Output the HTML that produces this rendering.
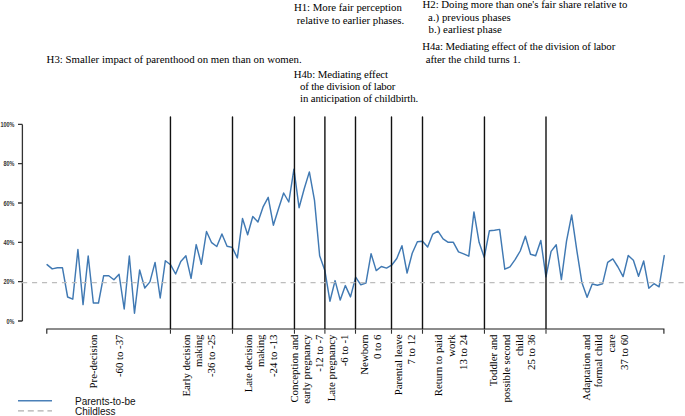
<!DOCTYPE html>
<html><head><meta charset="utf-8"><style>
html,body{margin:0;padding:0;background:#fff;}
body{width:685px;height:416px;overflow:hidden;}
svg{display:block;}
.t{font-family:"Liberation Serif",serif;font-size:10.8px;fill:#000;}
.y{font-family:"Liberation Sans",sans-serif;font-size:6.3px;font-weight:bold;fill:#333;}
.lg{font-family:"Liberation Sans",sans-serif;font-size:10px;fill:#111;}
</style></head><body>
<svg width="685" height="416" viewBox="0 0 685 416">

<text class="t" x="293.89" y="10.90" textLength="107.97" lengthAdjust="spacing">H1: More fair perception</text>
<text class="t" x="296.78" y="23.60" textLength="107.43" lengthAdjust="spacing">relative to earlier phases.</text>
<text class="t" x="422.49" y="7.90" textLength="204.82" lengthAdjust="spacing">H2: Doing more than one&#39;s fair share relative to</text>
<text class="t" x="428.12" y="20.60" textLength="82.57" lengthAdjust="spacing">a.) previous phases</text>
<text class="t" x="428.60" y="33.10" textLength="73.17" lengthAdjust="spacing">b.) earliest phase</text>
<text class="t" x="422.19" y="50.40" textLength="193.11" lengthAdjust="spacing">H4a: Mediating effect of the division of labor</text>
<text class="t" x="425.72" y="62.80" textLength="94.79" lengthAdjust="spacing">after the child turns 1.</text>
<text class="t" x="46.59" y="63.00" textLength="255.12" lengthAdjust="spacing">H3: Smaller impact of parenthood on men than on women.</text>
<text class="t" x="293.79" y="77.60" textLength="94.27" lengthAdjust="spacing">H4b: Mediating effect</text>
<text class="t" x="299.89" y="89.80" textLength="95.51" lengthAdjust="spacing">of the division of labor</text>
<text class="t" x="300.07" y="102.20" textLength="118.14" lengthAdjust="spacing">in anticipation of childbirth.</text>
<path d="M22.4 124.4V321M18 124.4H22.4M18 163.7H22.4M18 203H22.4M18 242.4H22.4M18 281.7H22.4M18 321H22.4" stroke="#333" stroke-width="1.3" fill="none"/>
<text class="y" text-anchor="end" transform="translate(14.4 127.00) scale(0.87 1)">100%</text>
<text class="y" text-anchor="end" transform="translate(14.4 166.30) scale(0.87 1)">80%</text>
<text class="y" text-anchor="end" transform="translate(14.4 205.60) scale(0.87 1)">60%</text>
<text class="y" text-anchor="end" transform="translate(14.4 245.00) scale(0.87 1)">40%</text>
<text class="y" text-anchor="end" transform="translate(14.4 284.30) scale(0.87 1)">20%</text>
<text class="y" text-anchor="end" transform="translate(14.4 323.60) scale(0.87 1)">0%</text>
<polyline points="47.05,264.60 52.19,268.90 57.34,267.80 62.48,267.80 67.62,297.00 72.77,299.20 77.91,249.50 83.05,304.60 88.20,256.00 93.34,303.00 98.48,303.00 103.63,275.80 108.77,275.80 113.91,279.80 119.06,274.30 124.20,309.00 129.34,256.00 134.49,313.20 139.63,270.00 144.77,288.00 149.92,281.90 155.06,262.40 160.20,298.00 165.35,260.70 170.49,264.70 175.63,274.00 180.78,261.50 185.92,255.80 191.06,278.30 196.21,244.60 201.35,264.20 206.49,231.50 211.64,242.70 216.78,246.50 221.92,234.00 227.07,246.20 232.21,247.40 237.35,257.90 242.50,218.50 247.64,234.80 252.78,216.50 257.93,221.90 263.07,206.90 268.21,197.30 273.36,225.20 278.50,208.80 283.64,193.00 288.79,202.00 293.93,169.20 299.07,207.70 304.22,188.80 309.36,171.90 314.50,200.40 319.64,255.70 324.79,270.20 329.93,301.20 335.07,280.60 340.22,300.10 345.36,285.60 350.50,296.90 355.65,277.20 360.79,284.80 365.93,283.10 371.08,253.70 376.22,270.60 381.36,266.50 386.51,268.10 391.65,265.20 396.79,258.50 401.94,245.70 407.08,273.00 412.22,253.30 417.37,241.70 422.51,241.20 427.65,247.10 432.80,234.10 437.94,231.20 443.08,238.90 448.23,242.30 453.37,242.30 458.51,251.90 463.66,253.90 468.80,256.20 473.94,211.90 479.09,242.30 484.23,257.30 489.37,230.80 494.52,230.20 499.66,229.40 504.80,269.20 509.95,266.90 515.09,259.60 520.23,251.00 525.38,236.20 530.52,254.20 535.66,255.80 540.81,240.40 545.95,276.80 551.09,251.40 556.24,244.80 561.38,279.60 566.52,241.20 571.67,214.90 576.81,250.40 581.95,282.80 587.10,297.20 592.24,284.00 597.38,285.20 602.53,283.80 607.67,262.40 612.81,258.90 617.96,267.00 623.10,276.60 628.24,255.50 633.39,260.30 638.53,276.30 643.67,261.00 648.82,288.20 653.96,283.70 659.10,286.80 664.25,255.60" fill="none" stroke="#4079b3" stroke-width="1.45" stroke-linejoin="round" stroke-linecap="round"/>
<path d="M46.8 333.8V329H663.9V333.8" stroke="#1a1a1a" stroke-width="1.1" fill="none"/>
<path d="M170.45 329.5V333.8M232.50 329.5V333.8M294.45 329.5V333.8M324.90 329.5V333.8M355.50 329.5V333.8M391.50 329.5V333.8M422.50 329.5V333.8M484.45 329.5V333.8M546.00 329.5V333.8" stroke="#333" stroke-width="1.1" fill="none"/>
<path d="M170.45 117.0V328.4" stroke="#111" stroke-width="1.4" stroke-linecap="round"/>
<path d="M232.50 117.0V328.4" stroke="#111" stroke-width="1.4" stroke-linecap="round"/>
<path d="M294.45 117.0V328.4" stroke="#111" stroke-width="1.4" stroke-linecap="round"/>
<path d="M324.90 117.0V328.4" stroke="#111" stroke-width="1.4" stroke-linecap="round"/>
<path d="M355.50 117.0V328.4" stroke="#111" stroke-width="1.4" stroke-linecap="round"/>
<path d="M391.50 117.0V328.4" stroke="#111" stroke-width="1.4" stroke-linecap="round"/>
<path d="M422.50 117.0V328.4" stroke="#111" stroke-width="1.4" stroke-linecap="round"/>
<path d="M484.45 117.0V328.4" stroke="#111" stroke-width="1.4" stroke-linecap="round"/>
<path d="M546.00 117.0V328.4" stroke="#111" stroke-width="1.4" stroke-linecap="round"/>
<path d="M22.1 282.7H685" stroke="#bdbdbd" stroke-width="1.2" stroke-dasharray="5.1 4.845" fill="none"/>
<text class="t" text-anchor="end" transform="translate(97.25 334.50) rotate(-90)">Pre-decision</text>
<text class="t" text-anchor="end" transform="translate(122.55 334.50) rotate(-90)">-60 to -37</text>
<text class="t" text-anchor="end" transform="translate(189.83 334.50) rotate(-90)">Early decision</text>
<text class="t" text-anchor="end" transform="translate(202.48 334.50) rotate(-90)">making</text>
<text class="t" text-anchor="end" transform="translate(215.13 334.50) rotate(-90)">-36 to -25</text>
<text class="t" text-anchor="end" transform="translate(251.55 334.50) rotate(-90)">Late decision</text>
<text class="t" text-anchor="end" transform="translate(264.20 334.50) rotate(-90)">making</text>
<text class="t" text-anchor="end" transform="translate(276.85 334.50) rotate(-90)">-24 to -13</text>
<text class="t" text-anchor="end" transform="translate(297.84 334.50) rotate(-90)">Conception and</text>
<text class="t" text-anchor="end" transform="translate(310.49 334.50) rotate(-90)">early pregnancy</text>
<text class="t" text-anchor="end" transform="translate(323.14 334.50) rotate(-90)">-12 to -7</text>
<text class="t" text-anchor="end" transform="translate(335.02 334.50) rotate(-90)">Late pregnancy</text>
<text class="t" text-anchor="end" transform="translate(347.67 334.50) rotate(-90)">-6 to -1</text>
<text class="t" text-anchor="end" transform="translate(368.45 334.50) rotate(-90)">Newborn</text>
<text class="t" text-anchor="end" transform="translate(381.10 334.50) rotate(-90)">0 to 6</text>
<text class="t" text-anchor="end" transform="translate(401.88 334.50) rotate(-90)">Parental leave</text>
<text class="t" text-anchor="end" transform="translate(414.53 334.50) rotate(-90)">7 to 12</text>
<text class="t" text-anchor="end" transform="translate(441.85 334.50) rotate(-90)">Return to paid</text>
<text class="t" text-anchor="end" transform="translate(454.50 334.50) rotate(-90)">work</text>
<text class="t" text-anchor="end" transform="translate(467.15 334.50) rotate(-90)">13 to 24</text>
<text class="t" text-anchor="end" transform="translate(497.24 334.50) rotate(-90)">Toddler and</text>
<text class="t" text-anchor="end" transform="translate(509.89 334.50) rotate(-90)">possible second</text>
<text class="t" text-anchor="end" transform="translate(522.54 334.50) rotate(-90)">child</text>
<text class="t" text-anchor="end" transform="translate(535.19 334.50) rotate(-90)">25 to 36</text>
<text class="t" text-anchor="end" transform="translate(589.82 334.50) rotate(-90)">Adaptation and</text>
<text class="t" text-anchor="end" transform="translate(602.47 334.50) rotate(-90)">formal child</text>
<text class="t" text-anchor="end" transform="translate(615.12 334.50) rotate(-90)">care</text>
<text class="t" text-anchor="end" transform="translate(627.77 334.50) rotate(-90)">37 to 60</text>
<path d="M18 400.8H52" stroke="#4a80b8" stroke-width="1.4"/>
<path d="M18 410.8H52" stroke="#b0b0b0" stroke-width="1.2" stroke-dasharray="6 3.8"/>
<text class="lg" x="75" y="404.8">Parents-to-be</text>
<text class="lg" x="75" y="415">Childless</text>
</svg></body></html>
